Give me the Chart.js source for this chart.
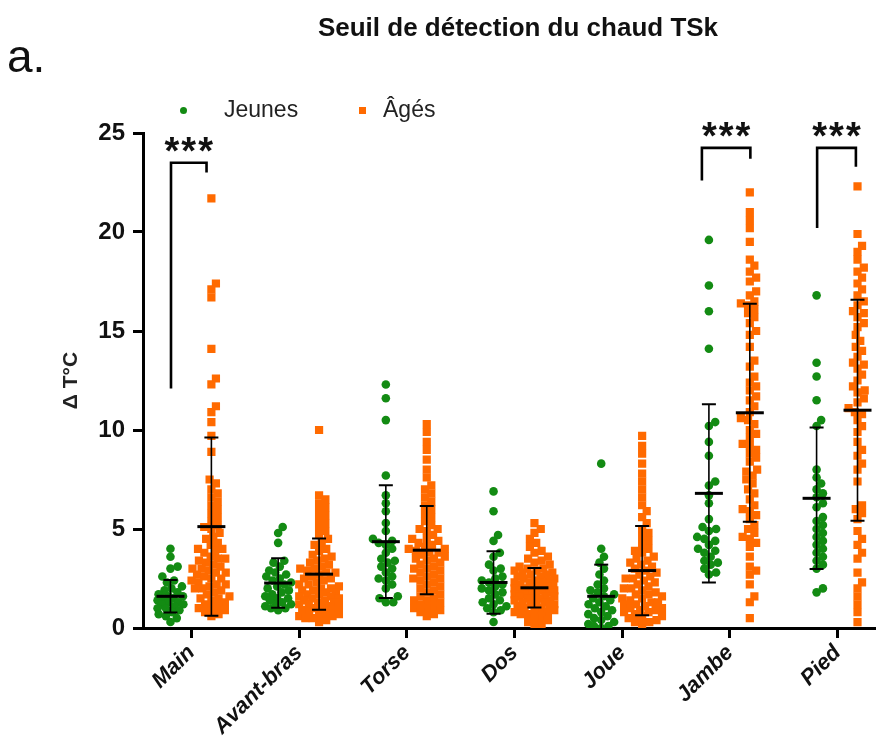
<!DOCTYPE html>
<html>
<head>
<meta charset="utf-8">
<script src="https://cdn.jsdelivr.net/npm/chart.js@4"></script>
<style>
  body { margin: 0; background: #fff; }
  #wrap { position: relative; width: 880px; height: 749px; font-family: "Liberation Sans", Arial, sans-serif; }
  #c { position: absolute; left: 0; top: 0; }
  .title { position: absolute; top: 12px; left: 0; width: 1036px; text-align: center; font-weight: bold; font-size: 26px; line-height: 30px; color: #111; }
  .panel { position: absolute; left: 7px; top: 33px; font-size: 46px; line-height: 46px; color: #111; }
  .legend { position: absolute; top: 98px; left: 178px; font-size: 23px; line-height: 23px; color: #222; }
  .legend span { position: absolute; white-space: nowrap; }
  .dot { width: 7px; height: 7px; border-radius: 50%; background: #138b13; }
  .sq { width: 7px; height: 7px; background: #ff6a00; }
</style>
</head>
<body>
<div id="wrap">
  <canvas id="c" width="880" height="749"></canvas>
  <div class="title">Seuil de détection du chaud TSk</div>
  <div class="panel">a.</div>
  <div class="legend">
    <span class="dot" style="left:2px;top:9px"></span>
    <span style="left:46px;top:0">Jeunes</span>
    <span class="sq" style="left:181px;top:9px"></span>
    <span style="left:205px;top:0">Âgés</span>
  </div>
</div>
<script>
// sites de mesure
const categories = ['Main', 'Avant-bras', 'Torse', 'Dos', 'Joue', 'Jambe', 'Pied'];

// seuils individuels, jeunes (un tableau par site)
const jeunesMain = [4.0, 3.6, 3.1, 3.0, 2.6, 2.4, 2.3, 2.1, 2.0, 1.9, 1.8, 1.7, 1.6, 1.6, 1.5, 1.5, 1.4, 1.3, 1.3, 1.2, 1.2, 1.1, 1.0, 1.0, 0.9, 0.8, 0.7, 0.6, 0.5, 0.3];
const jeunesAvantBras = [5.1, 4.8, 4.3, 3.4, 3.3, 3.1, 2.9, 2.8, 2.7, 2.6, 2.5, 2.4, 2.3, 2.2, 2.1, 2.0, 1.9, 1.8, 1.7, 1.6, 1.5, 1.5, 1.4, 1.3, 1.2, 1.2, 1.1, 1.0, 1.0, 0.9];
const jeunesTorse = [12.3, 11.6, 10.5, 7.7, 6.7, 6.3, 5.9, 5.3, 4.9, 4.5, 4.4, 4.3, 4.2, 4.0, 3.8, 3.5, 3.4, 3.3, 3.1, 3.0, 2.8, 2.6, 2.5, 2.4, 2.2, 2.0, 1.6, 1.5, 1.3, 1.3];
const jeunesDos = [6.9, 5.9, 4.7, 4.4, 3.8, 3.6, 3.2, 3.0, 2.9, 2.6, 2.5, 2.4, 2.3, 2.2, 2.1, 2.0, 1.9, 1.8, 1.7, 1.5, 1.4, 1.3, 1.2, 1.1, 1.0, 0.9, 0.8, 0.3];
const jeunesJoue = [8.3, 4.0, 3.6, 3.3, 3.0, 2.7, 2.4, 2.2, 2.0, 1.9, 1.8, 1.7, 1.6, 1.5, 1.4, 1.3, 1.2, 1.1, 1.0, 0.9, 0.8, 0.7, 0.6, 0.5, 0.4, 0.3, 0.2, 0.1, 0.1, 0.0];
const jeunesJambe = [19.6, 17.3, 16.0, 14.1, 10.4, 10.2, 9.4, 8.7, 7.4, 7.2, 6.7, 6.3, 5.5, 5.1, 5.0, 4.9, 4.6, 4.5, 4.4, 4.2, 4.0, 3.9, 3.8, 3.6, 3.4, 3.3, 3.2, 3.0, 2.8, 2.7];
const jeunesPied = [16.8, 13.4, 12.7, 11.5, 10.5, 10.2, 8.0, 7.6, 7.3, 7.0, 6.8, 6.6, 6.3, 6.1, 5.6, 5.4, 5.2, 5.0, 4.8, 4.6, 4.4, 4.2, 4.0, 3.8, 3.6, 3.4, 3.2, 3.0, 2.0, 1.8];

// seuils individuels, âgés
const agesMain = [21.7, 17.4, 17.1, 16.7, 14.1, 12.6, 12.3, 11.2, 10.9, 10.4, 9.7, 8.9, 7.5, 7.3, 7.0, 6.8, 6.6, 6.4, 6.2, 6.0, 5.8, 5.6, 5.4, 5.2, 5.1, 5.0, 4.8, 4.6, 4.5, 4.3, 4.2, 4.0, 4.0, 3.9, 3.8, 3.6, 3.5, 3.5, 3.4, 3.3, 3.2, 3.1, 3.0, 3.0, 2.9, 2.8, 2.8, 2.7, 2.6, 2.5, 2.5, 2.4, 2.3, 2.2, 2.2, 2.1, 2.0, 2.0, 1.9, 1.8, 1.7, 1.6, 1.5, 1.5, 1.4, 1.3, 1.2, 1.1, 1.0, 1.0, 0.9, 0.8, 0.7, 0.6];
const agesAvantBras = [10.0, 6.7, 6.5, 6.3, 6.1, 5.9, 5.7, 5.5, 5.3, 5.1, 4.9, 4.7, 4.5, 4.3, 4.2, 4.0, 3.9, 3.7, 3.6, 3.5, 3.4, 3.3, 3.2, 3.1, 3.0, 3.0, 2.9, 2.8, 2.8, 2.7, 2.6, 2.5, 2.5, 2.4, 2.3, 2.2, 2.2, 2.1, 2.0, 2.0, 1.9, 1.9, 1.8, 1.8, 1.7, 1.7, 1.6, 1.6, 1.5, 1.5, 1.4, 1.4, 1.3, 1.3, 1.2, 1.2, 1.1, 1.1, 1.0, 1.0, 0.9, 0.9, 0.8, 0.8, 0.7, 0.7, 0.6, 0.6, 0.5, 0.5, 0.4, 0.3];
const agesTorse = [10.3, 9.9, 9.4, 9.0, 8.5, 8.0, 7.6, 7.2, 7.0, 6.8, 6.6, 6.4, 6.2, 6.0, 5.8, 5.6, 5.4, 5.2, 5.0, 5.0, 4.9, 4.7, 4.5, 4.5, 4.4, 4.3, 4.2, 4.1, 4.0, 4.0, 3.9, 3.8, 3.8, 3.7, 3.6, 3.5, 3.5, 3.4, 3.3, 3.2, 3.1, 3.0, 3.0, 2.9, 2.8, 2.7, 2.6, 2.5, 2.5, 2.4, 2.3, 2.2, 2.1, 2.0, 1.9, 1.8, 1.7, 1.6, 1.5, 1.4, 1.4, 1.3, 1.2, 1.1, 1.0, 1.0, 0.9, 0.8, 0.7, 0.6];
const agesDos = [5.3, 5.0, 4.8, 4.5, 4.3, 4.1, 3.9, 3.8, 3.6, 3.5, 3.4, 3.3, 3.2, 3.1, 3.0, 3.0, 2.9, 2.9, 2.8, 2.8, 2.7, 2.7, 2.6, 2.6, 2.5, 2.5, 2.4, 2.4, 2.3, 2.3, 2.3, 2.2, 2.2, 2.1, 2.1, 2.0, 2.0, 2.0, 1.9, 1.9, 1.9, 1.8, 1.8, 1.8, 1.7, 1.7, 1.6, 1.6, 1.6, 1.5, 1.5, 1.5, 1.4, 1.4, 1.3, 1.3, 1.2, 1.2, 1.2, 1.1, 1.1, 1.0, 1.0, 0.9, 0.9, 0.8, 0.8, 0.7, 0.7, 0.6, 0.5, 0.4, 0.3, 0.2, 0.1];
const agesJoue = [9.7, 9.2, 8.8, 8.3, 7.8, 7.4, 7.0, 6.6, 6.2, 5.9, 5.6, 5.3, 5.0, 4.8, 4.6, 4.4, 4.2, 4.0, 3.9, 3.8, 3.6, 3.5, 3.4, 3.3, 3.2, 3.1, 3.0, 2.9, 2.8, 2.7, 2.6, 2.5, 2.5, 2.4, 2.3, 2.2, 2.1, 2.0, 2.0, 1.9, 1.8, 1.7, 1.7, 1.6, 1.5, 1.5, 1.4, 1.3, 1.3, 1.2, 1.2, 1.1, 1.0, 1.0, 0.9, 0.9, 0.8, 0.8, 0.7, 0.6, 0.6, 0.5, 0.4, 0.3, 0.3, 0.2];
const agesJambe = [22.0, 21.0, 20.6, 20.2, 19.5, 18.6, 18.3, 18.0, 17.7, 17.5, 17.0, 16.8, 16.5, 16.4, 16.3, 16.1, 15.9, 15.7, 15.4, 15.0, 14.8, 14.2, 13.5, 13.2, 12.7, 12.4, 12.2, 12.0, 11.7, 11.5, 11.2, 10.9, 10.6, 10.5, 10.3, 10.0, 9.8, 9.6, 9.3, 9.2, 9.0, 8.8, 8.6, 8.4, 8.0, 7.9, 7.7, 7.5, 7.3, 7.0, 6.8, 6.5, 6.2, 6.0, 5.9, 5.7, 5.5, 5.2, 5.0, 4.8, 4.6, 4.5, 4.3, 4.1, 3.6, 3.1, 2.9, 2.7, 2.2, 1.6, 1.3, 0.5];
const agesPied = [22.3, 19.9, 19.3, 19.0, 18.6, 18.2, 18.0, 17.7, 17.4, 17.1, 16.8, 16.5, 16.3, 16.0, 15.9, 15.7, 15.4, 15.2, 14.8, 14.5, 14.2, 14.0, 13.7, 13.4, 13.3, 13.1, 12.8, 12.5, 12.2, 12.0, 11.9, 11.6, 11.4, 11.1, 10.9, 10.8, 10.5, 10.2, 9.9, 9.4, 9.0, 8.7, 8.3, 8.0, 7.4, 6.2, 6.0, 5.8, 5.5, 4.9, 4.5, 4.2, 3.8, 3.5, 2.8, 2.3, 2.0, 1.6, 1.2, 0.8, 0.3];

const jeunesParSite = [jeunesMain, jeunesAvantBras, jeunesTorse, jeunesDos, jeunesJoue, jeunesJambe, jeunesPied];
const agesParSite = [agesMain, agesAvantBras, agesTorse, agesDos, agesJoue, agesJambe, agesPied];

// moyenne ± écart-type
const meanJeunes = [1.6, 2.27, 4.36, 2.3, 1.6, 6.8, 6.55];
const sdJeunes = [0.82, 1.25, 2.85, 1.58, 1.6, 4.5, 3.57];
const meanAges = [5.12, 2.72, 3.93, 2.03, 2.9, 10.87, 11.0];
const sdAges = [4.5, 1.8, 2.23, 1.0, 2.25, 5.5, 5.58];

// comparaisons significatives : site, extrémités gauche/droite, hauteurs
const sigSites = [0, 5, 6];
const sigLeft = [-0.19, -0.26, -0.19];
const sigRight = [0.14, 0.19, 0.17];
const sigLeftFoot = [12.1, 22.6, 20.2];
const sigTop = [23.5, 24.25, 24.25];
const sigRightFoot = [23.0, 23.7, 23.3];
const sigLabel = ['***', '***', '***'];

const VERT = '#138b13';
const ORANGE = '#ff6a00';
const FONT = '"Liberation Sans", Arial, sans-serif';
const OFF_J = -0.195, OFF_A = 0.185;
const PX_X = 108.5, PX_Y = 19.8;   // échelle approx. pour l'étalement des points

// étalement type "beeswarm" : décalage horizontal (px) pour éviter les chevauchements
function swarm(values, diam, maxW) {
  const order = values.map((v, i) => i).sort((a, b) => values[a] - values[b]);
  const placed = [];
  const out = new Array(values.length);
  order.forEach(i => {
    const y = values[i] * PX_Y;
    const near = placed.filter(p => Math.abs(p.y - y) < diam);
    const cands = [0];
    near.forEach(p => {
      const dx = Math.sqrt(diam * diam - (p.y - y) * (p.y - y));
      cands.push(p.x + dx, p.x - dx);
    });
    cands.sort((a, b) => Math.abs(a) - Math.abs(b));
    let x = cands.find(c => Math.abs(c) <= maxW &&
      near.every(p => (p.x - c) ** 2 + (p.y - y) ** 2 >= diam * diam - 0.01));
    if (x === undefined) {
      let best = -Infinity;
      for (let c = -maxW; c <= maxW; c += 1) {
        const d = Math.min(...near.map(p => (p.x - c) ** 2 + (p.y - y) ** 2));
        if (d > best + 0.5) { best = d; x = c; }
      }
    }
    placed.push({ x, y });
    out[i] = x;
  });
  return out;
}

function buildPoints(groups, off, diam, maxW) {
  const pts = [];
  groups.forEach((vals, site) => {
    const dx = swarm(vals, diam, maxW);
    vals.forEach((v, k) => pts.push({ x: site + off + dx[k] / PX_X, y: v }));
  });
  return pts;
}

// barres moyenne ± ET et crochets de significativité
const overlayPlugin = {
  id: 'overlay',
  afterDatasetsDraw(chart) {
    const { ctx, scales: { x, y } } = chart;
    ctx.save();
    ctx.strokeStyle = '#000';
    const bars = (means, sds, off) => {
      means.forEach((m, i) => {
        const cx = x.getPixelForValue(i + off);
        const top = y.getPixelForValue(m + sds[i]);
        const bot = y.getPixelForValue(Math.max(0, m - sds[i]));
        ctx.lineWidth = 1.6;
        ctx.beginPath(); ctx.moveTo(cx, top); ctx.lineTo(cx, bot); ctx.stroke();
        ctx.lineWidth = 2;
        ctx.beginPath();
        ctx.moveTo(cx - 7, top); ctx.lineTo(cx + 7, top);
        if (m - sds[i] > 0) { ctx.moveTo(cx - 7, bot); ctx.lineTo(cx + 7, bot); }
        ctx.stroke();
        const my = y.getPixelForValue(m);
        ctx.lineWidth = 3;
        ctx.beginPath(); ctx.moveTo(cx - 14, my); ctx.lineTo(cx + 14, my); ctx.stroke();
      });
    };
    bars(meanJeunes, sdJeunes, OFF_J);
    bars(meanAges, sdAges, OFF_A);

    ctx.lineWidth = 2.6;
    ctx.fillStyle = '#111';
    ctx.font = 'bold 38px ' + FONT;
    ctx.letterSpacing = '2px';
    ctx.textAlign = 'center';
    ctx.textBaseline = 'alphabetic';
    sigSites.forEach((s, i) => {
      const xl = x.getPixelForValue(s + sigLeft[i]);
      const xr = x.getPixelForValue(s + sigRight[i]);
      const yt = y.getPixelForValue(sigTop[i]);
      ctx.beginPath();
      ctx.moveTo(xl, y.getPixelForValue(sigLeftFoot[i]));
      ctx.lineTo(xl, yt);
      ctx.lineTo(xr, yt);
      ctx.lineTo(xr, y.getPixelForValue(sigRightFoot[i]));
      ctx.stroke();
      ctx.fillText(sigLabel[i], (xl + xr) / 2 + 1, yt + 1);
    });
    ctx.restore();
  }
};

new Chart(document.getElementById('c'), {
  type: 'scatter',
  data: {
    datasets: [
      {
        label: 'Jeunes',
        data: buildPoints(jeunesParSite, OFF_J, 7.5, 13),
        backgroundColor: VERT,
        borderWidth: 0,
        pointStyle: 'circle',
        pointRadius: 4.3
      },
      {
        label: 'Âgés',
        data: buildPoints(agesParSite, OFF_A, 7.5, 20),
        backgroundColor: ORANGE,
        borderWidth: 0,
        pointStyle: 'rect',
        pointRadius: 5.8
      }
    ]
  },
  options: {
    responsive: false,
    animation: false,
    devicePixelRatio: 1,
    layout: { padding: { top: 133, right: 0, left: 0, bottom: 0 } },
    plugins: { legend: { display: false }, tooltip: { enabled: false } },
    scales: {
      x: {
        type: 'linear',
        min: -0.45,
        max: 6.34,
        afterBuildTicks: scale => { scale.ticks = categories.map((c, i) => ({ value: i })); },
        afterFit: scale => { scale.height = 121; },
        ticks: {
          callback: v => categories[v],
          minRotation: 45,
          maxRotation: 45,
          color: '#111',
          padding: 2,
          font: { family: FONT, size: 22, weight: 'bold', style: 'italic' }
        },
        grid: { drawOnChartArea: false, drawTicks: true, tickLength: 10, color: '#000', lineWidth: 3 },
        border: { display: true, color: '#000', width: 3 }
      },
      y: {
        min: 0,
        max: 25,
        afterFit: scale => { scale.width = 143; },
        ticks: {
          stepSize: 5,
          color: '#111',
          padding: 8,
          font: { family: FONT, size: 24, weight: 'bold' }
        },
        title: {
          display: true,
          text: 'Δ T°C',
          color: '#222',
          padding: { top: 59, bottom: 0 },
          font: { family: FONT, size: 21, weight: 'bold' }
        },
        grid: { drawOnChartArea: false, drawTicks: true, tickLength: 10, color: '#000', lineWidth: 3 },
        border: { display: true, color: '#000', width: 3 }
      }
    }
  },
  plugins: [overlayPlugin]
});
</script>
</body>
</html>
